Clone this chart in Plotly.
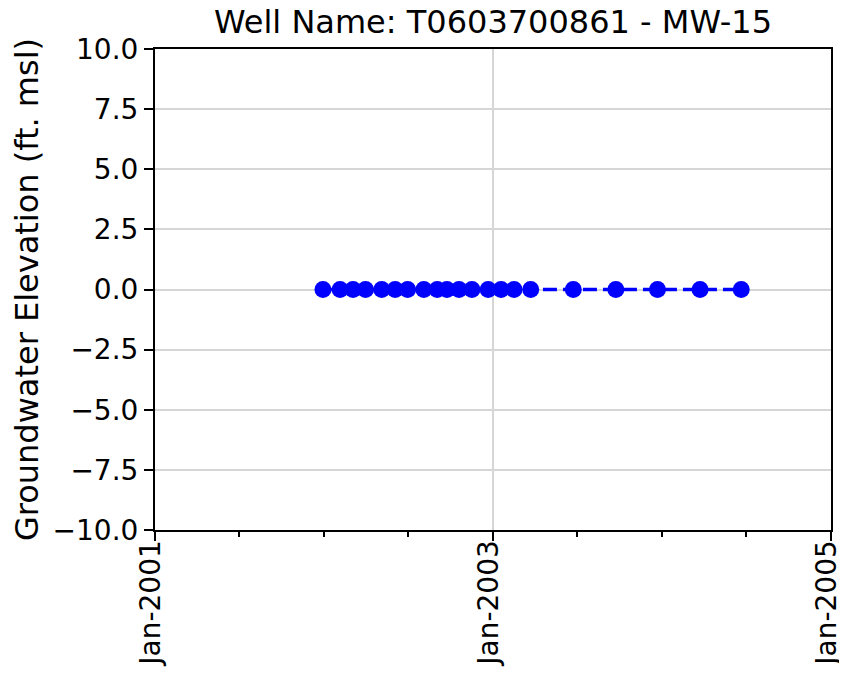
import plotly.graph_objects as go

dates = [
    "2001-12-30", "2002-02-05", "2002-03-05", "2002-04-01", "2002-05-06",
    "2002-06-04", "2002-07-01", "2002-08-05", "2002-09-03", "2002-09-24",
    "2002-10-20", "2002-11-17", "2002-12-22", "2003-01-19", "2003-02-16",
    "2003-03-24", "2003-06-24", "2003-09-24", "2003-12-23", "2004-03-24",
    "2004-06-21",
]
elevations = [0.0] * len(dates)

title_text = "Well Name: T0603700861 - MW-15"
y_label = "Groundwater Elevation (ft. msl)"
x_range = ["2001-01-01", "2005-01-01"]
y_range = [-10, 10]

FONT = "DejaVu Sans"
W, H = 839, 667
L, R, T, B = 147, 16, 41, 145

fig = go.Figure()
fig.add_trace(go.Scatter(
    x=dates, y=elevations, mode="lines+markers",
    line=dict(color="#0000ff", width=3.7, dash="14px,6px"),
    marker=dict(color="#0000ff", size=17),
    showlegend=False,
))

fig.update_layout(
    width=W, height=H,
    margin=dict(l=L, r=R, t=T, b=B),
    plot_bgcolor="white", paper_bgcolor="white",
    font=dict(family=FONT, color="black", size=28),
    title=dict(text=title_text, font=dict(size=32, family=FONT, color="black"),
               x=(L + W - R) / 2 / W, xanchor="center",
               yref="container", y=1 - 14 / H, yanchor="middle"),
)

fig.update_xaxes(
    type="date", range=x_range, automargin=False,
    tick0="2001-01-01", dtick="M24", tickformat="%b-%Y", tickangle=-90,
    ticks="outside", ticklen=9, tickwidth=2, tickcolor="black",
    tickfont=dict(size=28, family=FONT), ticklabelstandoff=-12,
    ticklabelshift=-4, ticklabeloverflow="allow",
    showgrid=True, gridcolor="#d6d6d6", gridwidth=2,
    showline=True, linecolor="black", linewidth=2, mirror=True,
    zeroline=False,
    minor=dict(dtick="M6", tick0="2001-01-01", ticks="outside", ticklen=5,
               tickwidth=2, tickcolor="black", showgrid=False),
)

fig.update_yaxes(
    range=y_range, tick0=-10, dtick=2.5, tickformat=".1f", automargin=False,
    ticks="outside", ticklen=9, tickwidth=2, tickcolor="black",
    tickfont=dict(size=28, family=FONT),
    showgrid=True, gridcolor="#d6d6d6", gridwidth=2,
    showline=True, linecolor="black", linewidth=2, mirror=True,
    zeroline=False,
    title=dict(text=y_label, font=dict(size=32, family=FONT), standoff=14),
)

fig.write_html("out.html")
